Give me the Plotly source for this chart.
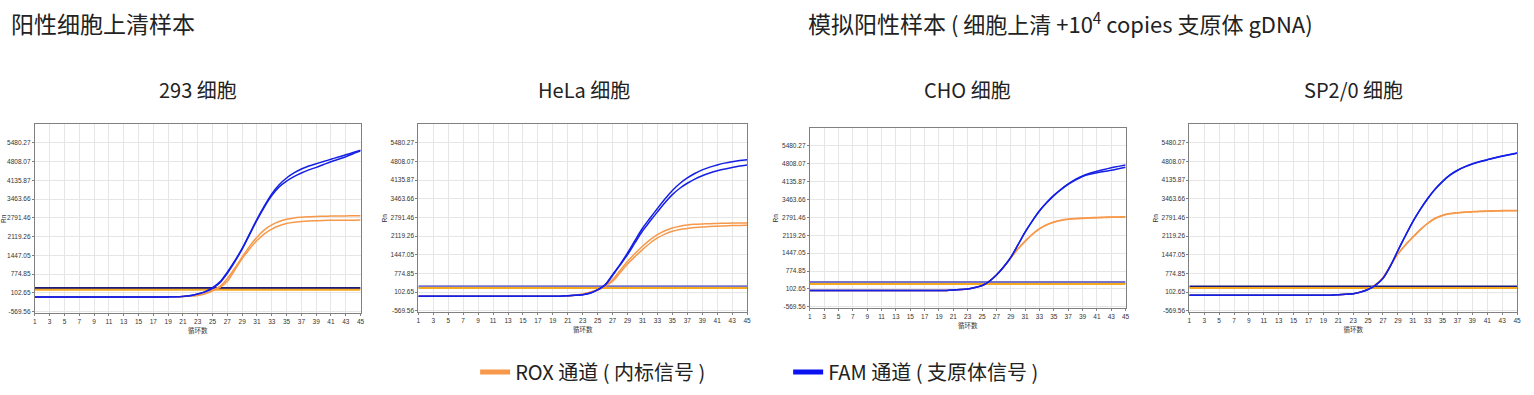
import plotly.graph_objects as go

# ---------------- data ----------------
cycles = list(range(1, 46))

ytick_vals = [-569.56, 102.65, 774.85, 1447.05, 2119.26, 2791.46, 3463.66, 4135.87, 4808.07, 5480.27]
ytick_text = ["-569.56", "102.65", "774.85", "1447.05", "2119.26", "2791.46", "3463.66", "4135.87", "4808.07", "5480.27"]
xtick_vals = list(range(1, 46, 2))

panel_titles = ["293 细胞", "HeLa 细胞", "CHO 细胞", "SP2/0 细胞"]

# 293
fam_293_a = [-40]*18 + [-38, -35, -20, 10, 70, 150, 290, 500, 850, 1250, 1700, 2220, 2740, 3220, 3650,
                        3980, 4220, 4400, 4540, 4650, 4730, 4810, 4890, 4970, 5050, 5130, 5210]
fam_293_b = [-40]*18 + [-38, -35, -22, 5, 62, 140, 270, 470, 810, 1220, 1670, 2190, 2710, 3180, 3590,
                        3900, 4110, 4270, 4400, 4510, 4600, 4700, 4800, 4890, 4980, 5090, 5190]
rox_293_a = [-40]*18 + [-38, -35, -25, -5, 20, 79, 198, 340, 620, 990, 1390, 1770, 2100, 2360, 2540,
                        2660, 2740, 2790, 2815, 2832, 2842, 2850, 2855, 2860, 2862, 2865, 2865]
rox_293_b = [-40]*18 + [-38, -36, -27, -8, 15, 70, 180, 300, 520, 920, 1330, 1680, 1980, 2220, 2390,
                        2510, 2590, 2635, 2660, 2678, 2690, 2700, 2705, 2708, 2710, 2710, 2712]
thr_293 = {"FAM": 280, "ROX": 220}

# HeLa
fam_hela_a = [-52]*18 + [-50, -45, -28, -10, 10, 67, 190, 370, 730, 1100, 1510, 1960, 2400, 2760, 3110,
                         3450, 3760, 4010, 4210, 4370, 4500, 4600, 4680, 4745, 4795, 4835, 4870]
fam_hela_b = [-52]*18 + [-50, -46, -30, -12, 6, 60, 180, 350, 700, 1070, 1450, 1880, 2300, 2650, 2990,
                         3320, 3610, 3840, 4020, 4170, 4290, 4390, 4470, 4530, 4590, 4640, 4680]
rox_hela_a = [-52]*18 + [-50, -46, -32, -5, 31, 102, 186, 330, 550, 880, 1210, 1490, 1750, 1980, 2170,
                         2310, 2410, 2475, 2515, 2540, 2555, 2565, 2575, 2580, 2585, 2588, 2590]
rox_hela_b = [-52]*18 + [-50, -47, -34, -8, 25, 95, 175, 310, 490, 800, 1115, 1380, 1630, 1860, 2050,
                         2190, 2290, 2355, 2395, 2423, 2446, 2460, 2475, 2485, 2495, 2500, 2506]
thr_hela = {"FAM": 292, "ROX": 245}

# CHO
fam_cho_a = [40]*18 + [42, 48, 62, 80, 105, 160, 230, 390, 630, 930, 1290, 1760, 2240, 2660, 3040,
                       3350, 3620, 3850, 4050, 4220, 4355, 4450, 4530, 4595, 4655, 4710, 4760]
fam_cho_b = [40]*18 + [42, 48, 61, 79, 103, 157, 226, 385, 625, 925, 1285, 1755, 2235, 2655, 3035,
                       3340, 3610, 3835, 4030, 4195, 4330, 4415, 4470, 4520, 4565, 4620, 4675]
rox_cho_a = [40]*18 + [42, 48, 62, 80, 105, 160, 230, 390, 630, 930, 1280, 1610, 1900, 2160, 2370,
                       2520, 2620, 2690, 2730, 2752, 2767, 2780, 2790, 2800, 2806, 2812, 2816]
rox_cho_b = [40]*18 + [42, 48, 61, 79, 103, 157, 226, 385, 625, 925, 1272, 1600, 1890, 2150, 2360,
                       2508, 2608, 2678, 2718, 2740, 2755, 2768, 2778, 2788, 2794, 2800, 2804]
thr_cho = {"FAM": 347, "ROX": 286}

# SP2/0
fam_sp20_a = [-16]*18 + [-14, -8, 8, 25, 45, 105, 200, 350, 600, 1050, 1600, 2130, 2640, 3080, 3470,
                         3810, 4090, 4320, 4490, 4620, 4720, 4800, 4870, 4940, 5000, 5055, 5110]
fam_sp20_b = [-16]*18 + [-14, -9, 6, 23, 42, 100, 195, 345, 595, 1040, 1590, 2120, 2630, 3070, 3460,
                         3800, 4080, 4310, 4480, 4610, 4710, 4790, 4860, 4930, 4990, 5045, 5100]
rox_sp20_a = [-16]*18 + [-14, -8, 8, 25, 45, 105, 205, 370, 630, 1060, 1480, 1800, 2080, 2350, 2580,
                         2760, 2870, 2930, 2960, 2985, 3000, 3012, 3022, 3030, 3035, 3038, 3040]
rox_sp20_b = [-16]*18 + [-14, -9, 6, 23, 42, 100, 200, 362, 620, 1050, 1470, 1790, 2070, 2340, 2570,
                         2750, 2860, 2920, 2950, 2975, 2990, 3002, 3012, 3020, 3025, 3028, 3030]
thr_sp20 = {"FAM": 304, "ROX": 245}

panels = [
    (fam_293_a, fam_293_b, rox_293_a, rox_293_b, thr_293),
    (fam_hela_a, fam_hela_b, rox_hela_a, rox_hela_b, thr_hela),
    (fam_cho_a, fam_cho_b, rox_cho_a, rox_cho_b, thr_cho),
    (fam_sp20_a, fam_sp20_b, rox_sp20_a, rox_sp20_b, thr_sp20),
]

legend_names = ["ROX 通道 ( 内标信号 )", "FAM 通道 ( 支原体信号 )"]

# ---------------- style ----------------
W, H = 1534, 395
ORANGE = "#F7994A"
BLUE = "#1520E6"
ORANGE_THR = "#F5A91E"
THR_FAM_COLORS = ["#1B1B78", "#7474CC", "#7474CC", "#1B1B78"]
THR_FAM_WIDTH = [2, 3, 3, 2]
FONT = "Noto Sans CJK SC"

# pixel boxes of the plot areas: (left, right, top, bottom)
boxes = [(33, 360, 125, 315), (418, 748, 125, 314), (811, 1128, 129, 310), (1192, 1521, 125, 314)]

fig = go.Figure()
layout = {}
for i, (box, data) in enumerate(zip(boxes, panels)):
    n = "" if i == 0 else str(i + 1)
    xa, ya = "x" + n, "y" + n
    fa, fb, ra, rb, thr = data
    # threshold lines
    fig.add_trace(go.Scatter(x=[cycles[0], cycles[-1]], y=[thr["FAM"]] * 2, mode="lines",
                             line=dict(color=THR_FAM_COLORS[i], width=THR_FAM_WIDTH[i]),
                             xaxis=xa, yaxis=ya, showlegend=False, hoverinfo="skip"))
    fig.add_trace(go.Scatter(x=[cycles[0], cycles[-1]], y=[thr["ROX"]] * 2, mode="lines",
                             line=dict(color=ORANGE_THR, width=2),
                             xaxis=xa, yaxis=ya, showlegend=False, hoverinfo="skip"))
    for ys in (ra, rb):
        fig.add_trace(go.Scatter(x=cycles, y=ys, mode="lines", line=dict(color=ORANGE, width=1.5, shape="spline", smoothing=0.8),
                                 xaxis=xa, yaxis=ya, showlegend=False))
    for ys in (fa, fb):
        fig.add_trace(go.Scatter(x=cycles, y=ys, mode="lines", line=dict(color=BLUE, width=1.5, shape="spline", smoothing=0.8),
                                 xaxis=xa, yaxis=ya, showlegend=False))
    l, r, t, b = box
    layout["xaxis" + n] = dict(
        domain=[l / W, r / W], anchor=ya, range=[1, 45], tickvals=xtick_vals,
        tickfont=dict(size=6.5, color="#333", family="Arial"), showgrid=True, gridcolor="#E6E6E6",
        showline=True, linecolor="#808080", linewidth=1, mirror=True, zeroline=False,
        ticks="outside", ticklen=2, tickcolor="#808080",
        title=dict(text="循环数", font=dict(size=6.5, color="#333", family=FONT), standoff=0),
    )
    layout["yaxis" + n] = dict(
        domain=[1 - b / H, 1 - t / H], anchor=xa, range=[-630, 6140], tickvals=ytick_vals, ticktext=ytick_text,
        tickfont=dict(size=6.5, color="#333", family="Arial"), showgrid=True, gridcolor="#E6E6E6",
        showline=True, linecolor="#808080", linewidth=1, mirror=True, zeroline=False,
        ticks="outside", ticklen=2, tickcolor="#808080",
        title=dict(text="Rn", font=dict(size=6.5, color="#333", family="Arial"), standoff=2),
    )

# legend-only traces
fig.add_trace(go.Scatter(x=[None], y=[None], mode="lines", line=dict(color=ORANGE, width=5),
                         name=legend_names[0], showlegend=True))
fig.add_trace(go.Scatter(x=[None], y=[None], mode="lines", line=dict(color="#0A12F2", width=5),
                         name=legend_names[1], showlegend=True))

centers = [197, 584, 969, 1357]
annotations = []
for c, txt, box in zip(centers, panel_titles, boxes):
    annotations.append(dict(text=txt, x=c / W, y=1 - 90 / H, xref="paper", yref="paper",
                            xanchor="center", yanchor="middle", showarrow=False,
                            font=dict(size=20, color="#222", family=FONT)))
annotations.append(dict(text="阳性细胞上清样本", x=7 / W, y=1 - 23 / H, xref="paper", yref="paper",
                        xanchor="left", yanchor="middle", showarrow=False,
                        font=dict(size=23, color="#222", family=FONT)))
annotations.append(dict(text="模拟阳性样本<span style='font-size:22px'> ( 细胞上清 +10<sup>4</sup> copies 支原体 gDNA)</span>",
                        x=807 / W, y=1 - 23 / H, xref="paper", yref="paper",
                        xanchor="left", yanchor="middle", showarrow=False,
                        font=dict(size=23, color="#222", family=FONT)))

fig.update_layout(
    width=W, height=H, margin=dict(l=0, r=0, t=0, b=0),
    paper_bgcolor="white", plot_bgcolor="white",
    annotations=annotations,
    legend=dict(orientation="h", x=475 / W, xanchor="left", y=1 - 374 / H, yanchor="middle",
                font=dict(size=20, color="#222", family=FONT), entrywidth=268, entrywidthmode="pixels",
                bgcolor="rgba(0,0,0,0)", borderwidth=0, itemclick=False),
    **layout,
)

fig.write_html("out.html")
